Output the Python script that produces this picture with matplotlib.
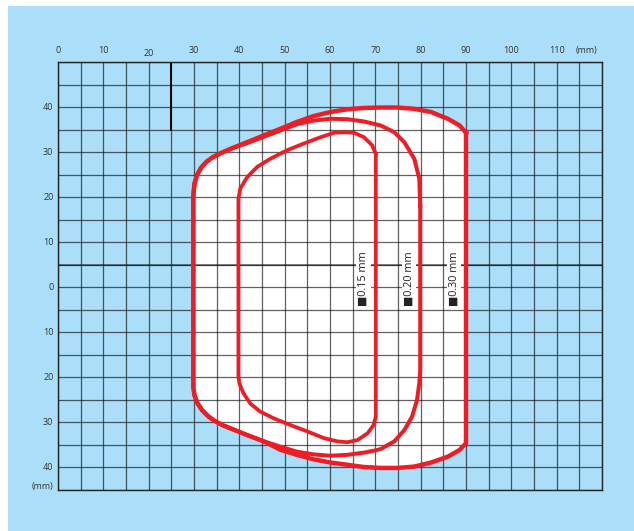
import matplotlib
matplotlib.use("Agg")
import matplotlib.pyplot as plt

plt.rcParams['font.family'] = ['Open Sans', 'DejaVu Sans']

# 网格刻度
x_grid = list(range(0, 121, 5))
y_grid = list(range(-45, 51, 5))
x_labels = [0, 10, 20, 30, 40, 50, 60, 70, 80, 90, 100, 110]
y_labels = [40, 30, 20, 10, 0, -10, -20, -30, -40]

# 读取范围 (mm)
outer_x = [90, 88.6, 86, 82.3, 78.6, 74.9, 71.2, 67.5, 63.8, 60.1, 56.4, 52.7, 49.1, 45.4, 41.7, 38, 36,
           34.2, 32.8, 31.6, 30.7, 30.1, 29.85,
           29.85, 30.1, 30.8, 31.8, 33.1, 34.6, 36.3, 38, 41.7, 45.4, 49.1, 52.7, 56.4, 60.1, 63.8, 67.5, 71.2,
           74.9, 78.6, 82.3, 86, 88.6, 90, 90]
outer_y = [34.3, 35.9, 37.4, 38.9, 39.6, 39.9, 39.9, 39.8, 39.5, 38.9, 38, 36.7, 35.2, 33.7, 32.2, 30.7, 29.8,
           28.9, 27.9, 26.6, 25, 23, 20.4,
           -22.1, -24, -25.8, -27.3, -28.6, -29.7, -30.6, -31.3, -32.8, -34.2, -36.1, -37.2, -38.2, -38.9, -39.4,
           -39.9, -40.1, -40.1, -39.8, -38.9, -37.6, -36.1, -34.6, 34.3]

mid_x = [79.9, 79.7, 78.6, 76.4, 74.2, 71.2, 67.5, 63.8, 60.1, 56.4, 52.7, 49.1, 45.4, 41.7, 38, 36,
         34.2, 32.8, 31.6, 30.7, 30.1, 29.85,
         29.85, 30.1, 30.8, 31.8, 33.1, 34.6, 36.3, 38, 41.7, 45.4, 49.1, 52.7, 56.4, 60.1, 63.8, 67.5, 70.1, 71.2,
         74.2, 76.4, 78.1, 79.2, 79.7, 79.9, 79.9]
mid_y = [18.1, 24.1, 28.5, 32.2, 34.4, 35.9, 36.8, 37.3, 37.4, 37, 36.2, 34.8, 33.4, 32.0, 30.7, 29.8,
         28.9, 27.9, 26.6, 25, 23, 20.4,
         -22.1, -24, -25.8, -27.3, -28.6, -29.7, -30.6, -31.3, -32.8, -34.2, -35.4, -36.5, -37.1, -37.4, -37.2,
         -36.7, -36.2, -35.9, -34.2, -31.7, -28.7, -25, -21.3, -18.4, 18.1]

inner_x = [70.1, 69.3, 67.5, 65.3, 63.1, 60.9, 57.9, 54.2, 50.5, 46.8, 43.9, 41.7, 40.2, 39.8,
           39.8, 40, 40.9, 42.4, 44.6, 47.6, 51.3, 55, 58.7, 61.6, 63.8, 66.1, 68.3, 69.6, 70.1, 70.1]
inner_y = [29.6, 31.5, 33.3, 34.3, 34.4, 34.3, 33.3, 31.9, 30.4, 28.5, 26.7, 24.4, 21.9, 19.6,
           -19.9, -21.3, -23.5, -25.8, -27.6, -29.1, -30.6, -32, -33.5, -34.2, -34.4, -33.9, -32.4, -30.6, -28.7, 29.6]

labels = ["\u25a00.15 mm", "\u25a00.20 mm", "\u25a00.30 mm"]
label_x = [67.4, 77.4, 87.4]

red = "#ee1d25"
blue = "#abdff9"
fig = plt.figure(figsize=(6.34, 5.31), dpi=100)
fig.patches.append(plt.Rectangle((8/634, 0), 1, 1 - 6/531, transform=fig.transFigure,
                                 facecolor=blue, edgecolor="none", zorder=-10))
ax = fig.add_axes([58/634, 1 - 490/531, (602-58)/634, (490-62)/531])
ax.set_facecolor(blue)
ax.set_xlim(0, 120)
ax.set_ylim(-45, 50)

# 白色区域
ax.fill(outer_x, outer_y, color="white", zorder=1, lw=0)

# 网格
for gx in x_grid:
    ax.axvline(gx, color="black", alpha=0.62, lw=0.9, zorder=2)
for gy in y_grid:
    ax.axhline(gy, color="black", alpha=0.62, lw=0.9, zorder=2)
ax.axhline(5, color="black", alpha=0.6, lw=1.1, zorder=2)
ax.plot([25, 25], [35, 50], color="black", lw=1.4, zorder=2)

ax.plot(outer_x, outer_y, color=red, lw=3.2, zorder=4, solid_joinstyle="round")
ax.plot(mid_x, mid_y, color=red, lw=2.9, zorder=4, solid_joinstyle="round")
ax.plot(inner_x, inner_y, color=red, lw=2.7, zorder=4, solid_joinstyle="round")

for t, lx in zip(labels, label_x):
    ax.text(lx, -4.2, t, rotation=90, ha="center", va="bottom", fontsize=7.8, color="#222222",
            zorder=5, bbox=dict(facecolor="white", edgecolor="none", pad=1.2))

ax.set_xticks([])
ax.set_yticks([])
for s in ax.spines.values():
    s.set_color("#222222")
    s.set_linewidth(1)

for v in x_labels:
    dy = 0.8 if v == 20 else 1.5
    ax.text(v, 50 + dy, str(v), ha="center", va="bottom", fontsize=6.5, color="#333333")
ax.text(116.6, 51.5, "(mm)", ha="center", va="bottom", fontsize=6.5, color="#333333")
for v in y_labels:
    ax.text(-1.0, v, str(abs(v)), ha="right", va="center", fontsize=6.5, color="#333333")
ax.text(-1.0, -44.2, "(mm)", ha="right", va="center", fontsize=6.5, color="#333333")

fig.savefig("out.png", dpi=100, facecolor="white")
